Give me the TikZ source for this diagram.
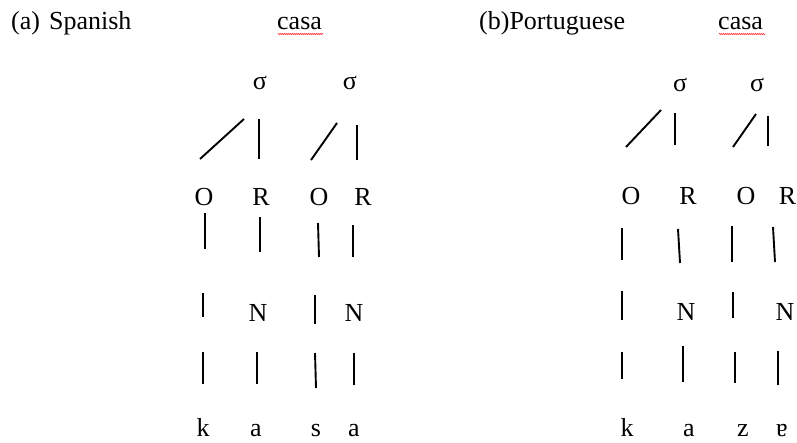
\documentclass[tikz,border=0pt]{standalone}
\usepackage{fontspec}
\setmainfont{Liberation Serif}
\usetikzlibrary{decorations.pathmorphing}
\begin{document}
\begin{tikzpicture}[x=1pt,y=-1pt,
  lbl/.style={anchor=base,inner sep=0pt,font=\fontsize{26}{30}\selectfont},
  hdr/.style={anchor=base west,inner sep=0pt,font=\fontsize{26}{30}\selectfont},
  branch/.style={line width=1.9pt},
  spell/.style={red!75,line width=0.6pt,decorate,decoration={zigzag,amplitude=0.7pt,segment length=2pt}}]
\useasboundingbox (0,0) rectangle (797,442);
% headers
\node[hdr] (ha) at (11,29.5) {(a)\hspace{9pt}Spanish};
\node[hdr] (ca) at (277,29.5) {casa};
\node[hdr] (hb) at (479,29.5) {(b)Portuguese};
\node[hdr] (cb) at (718,29.5) {casa};
\coordinate (ua1) at (278,34); \coordinate (ua2) at (323,34);
\coordinate (ub1) at (719,34); \coordinate (ub2) at (765,34);
\draw[spell] (ua1) -- (ua2);
\draw[spell] (ub1) -- (ub2);
% ---------- Spanish ----------
\node[lbl] (s1) at (260,89) {σ};
\node[lbl] (s2) at (350,89) {σ};
\node[lbl] (o1) at (204,205) {O};
\node[lbl] (r1) at (261,205) {R};
\node[lbl] (o2) at (319,205) {O};
\node[lbl] (r2) at (363,205) {R};
\node[lbl] (n1) at (258,321) {N};
\node[lbl] (n2) at (354,321) {N};
\node[lbl] (k1) at (203,436.5) {k};
\node[lbl] (a1) at (256,436.5) {a};
\node[lbl] (z1) at (316,436.5) {s};
\node[lbl] (e1) at (354,436.5) {a};
% upper branches
\coordinate (A1) at (200,159); \coordinate (A2) at (244,119);
\coordinate (A3) at (259,119); \coordinate (A4) at (259,159);
\coordinate (A5) at (311,160); \coordinate (A6) at (337,123);
\coordinate (A7) at (357,125); \coordinate (A8) at (357,160);
\draw[branch] (A1) -- (A2);
\draw[branch] (A3) -- (A4);
\draw[branch] (A5) -- (A6);
\draw[branch] (A7) -- (A8);
% row 1
\coordinate (B1) at (205,213); \coordinate (B2) at (205,249);
\coordinate (B3) at (260,217); \coordinate (B4) at (260,252);
\coordinate (B5) at (318,223); \coordinate (B6) at (319,257);
\coordinate (B7) at (353,225); \coordinate (B8) at (353,257);
\draw[branch] (B1) -- (B2);
\draw[branch] (B3) -- (B4);
\draw[branch] (B5) -- (B6);
\draw[branch] (B7) -- (B8);
% row 2
\coordinate (C1) at (203,293); \coordinate (C2) at (203,317);
\coordinate (C3) at (315,295); \coordinate (C4) at (315,324);
\draw[branch] (C1) -- (C2);
\draw[branch] (C3) -- (C4);
% row 3
\coordinate (D1) at (203,352); \coordinate (D2) at (203,384);
\coordinate (D3) at (257,352); \coordinate (D4) at (257,384);
\coordinate (D5) at (315,353); \coordinate (D6) at (316,388);
\coordinate (D7) at (354,353); \coordinate (D8) at (354,385);
\draw[branch] (D1) -- (D2);
\draw[branch] (D3) -- (D4);
\draw[branch] (D5) -- (D6);
\draw[branch] (D7) -- (D8);
% ---------- Portuguese ----------
\node[lbl] (t1) at (680,91) {σ};
\node[lbl] (t2) at (757,91) {σ};
\node[lbl] (p1) at (631,204) {O};
\node[lbl] (q1) at (688,204) {R};
\node[lbl] (p2) at (746,204) {O};
\node[lbl] (q2) at (787.5,204) {R};
\node[lbl] (m1) at (686,320) {N};
\node[lbl] (m2) at (785,320) {N};
\node[lbl] (k2) at (627,436.5) {k};
\node[lbl] (a2) at (689,436.5) {a};
\node[lbl] (z2) at (743,436.5) {z};
\node[lbl] (e2) at (782,436.5) {ɐ};
% upper branches
\coordinate (E1) at (626,147); \coordinate (E2) at (661,110);
\coordinate (E3) at (675,113); \coordinate (E4) at (675,145);
\coordinate (E5) at (733,147); \coordinate (E6) at (756,114);
\coordinate (E7) at (768,116); \coordinate (E8) at (768,146);
\draw[branch] (E1) -- (E2);
\draw[branch] (E3) -- (E4);
\draw[branch] (E5) -- (E6);
\draw[branch] (E7) -- (E8);
% row 1
\coordinate (F1) at (622,228); \coordinate (F2) at (622,260);
\coordinate (F3) at (678,229); \coordinate (F4) at (680,263);
\coordinate (F5) at (732,226); \coordinate (F6) at (732,262);
\coordinate (F7) at (773,227); \coordinate (F8) at (775,262);
\draw[branch] (F1) -- (F2);
\draw[branch] (F3) -- (F4);
\draw[branch] (F5) -- (F6);
\draw[branch] (F7) -- (F8);
% row 2
\coordinate (G1) at (622,291); \coordinate (G2) at (622,320);
\coordinate (G3) at (733,292); \coordinate (G4) at (733,318);
\draw[branch] (G1) -- (G2);
\draw[branch] (G3) -- (G4);
% row 3
\coordinate (H1) at (622,352); \coordinate (H2) at (622,379);
\coordinate (H3) at (683,346); \coordinate (H4) at (683,382);
\coordinate (H5) at (735,352); \coordinate (H6) at (735,383);
\coordinate (H7) at (778,351); \coordinate (H8) at (778,385);
\draw[branch] (H1) -- (H2);
\draw[branch] (H3) -- (H4);
\draw[branch] (H5) -- (H6);
\draw[branch] (H7) -- (H8);
\end{tikzpicture}
\end{document}
